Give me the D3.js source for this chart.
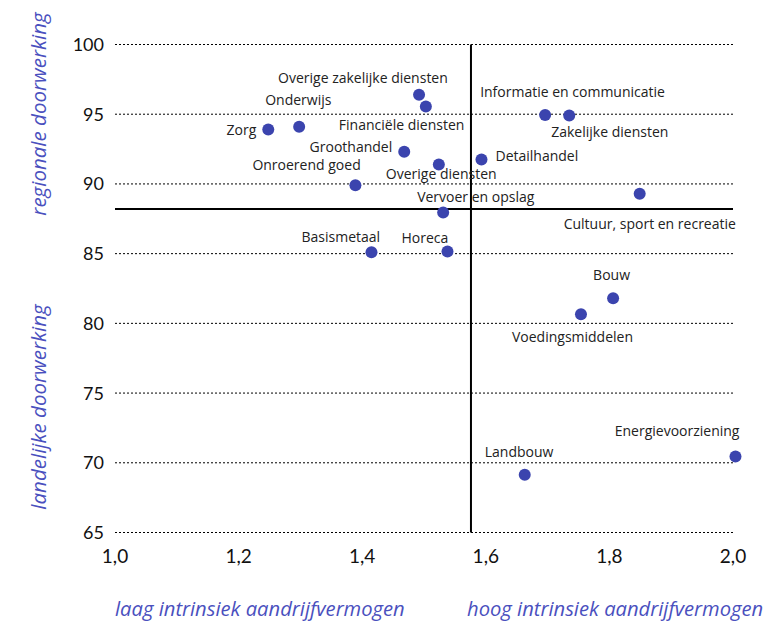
<!DOCTYPE html>
<html>
<head>
<meta charset="utf-8">
<script src="https://cdn.jsdelivr.net/npm/d3@7"></script>
<style>
  body { margin: 0; background: #fff; }
  svg { display: block; }
</style>
</head>
<body>
<svg width="780" height="622"></svg>
<script>
// sectors with x = intrinsiek aandrijfvermogen, y = doorwerking
var sectors = ["Overige zakelijke diensten", "Financiële diensten", "Informatie en communicatie",
  "Zakelijke diensten", "Onderwijs", "Zorg", "Groothandel", "Detailhandel", "Overige diensten",
  "Onroerend goed", "Cultuur, sport en recreatie", "Vervoer en opslag", "Basismetaal", "Horeca",
  "Bouw", "Voedingsmiddelen", "Energievoorziening", "Landbouw"]
var xValues = [1.492, 1.503, 1.696, 1.735, 1.298, 1.248, 1.468, 1.593, 1.524,
  1.389, 1.849, 1.531, 1.415, 1.538, 1.806, 1.754, 2.004, 1.663]
var yValues = [96.4, 95.55, 94.95, 94.9, 94.1, 93.9, 92.3, 91.75, 91.4,
  89.9, 89.3, 87.95, 85.1, 85.15, 81.8, 80.65, 70.45, 69.15]

var yTicks = [65, 70, 75, 80, 85, 90, 95, 100]
var xTicks = [1.0, 1.2, 1.4, 1.6, 1.8, 2.0]
var xSplit = 1.576   // vertical divider
var ySplit = 88.2    // horizontal divider

// label placement (pixels from point centre)
var labelPos = {
  "Overige zakelijke diensten": [-141, -12, "start"],
  "Financiële diensten": [-87, 23, "start"],
  "Informatie en communicatie": [-65, -18, "start"],
  "Zakelijke diensten": [-18, 21, "start"],
  "Onderwijs": [-34, -22, "start"],
  "Zorg": [-12, 5, "end"],
  "Groothandel": [-12, 0, "end"],
  "Detailhandel": [14, 1, "start"],
  "Overige diensten": [-53, 15, "start"],
  "Onroerend goed": [-103, -15, "start"],
  "Cultuur, sport en recreatie": [-76, 35, "start"],
  "Vervoer en opslag": [-26, -11, "start"],
  "Basismetaal": [-70, -10, "start"],
  "Horeca": [-46, -9, "start"],
  "Bouw": [-20, -18, "start"],
  "Voedingsmiddelen": [-69, 28, "start"],
  "Energievoorziening": [4, -21, "end"],
  "Landbouw": [-40, -18, "start"]
}

var svg = d3.select("svg")
var font = "Lato, 'Open Sans', sans-serif"
var labelFont = "'Open Sans', Lato, sans-serif"
var blue = "#3b44ae"
var titleBlue = "#4a50be"

var x = d3.scaleLinear().domain([1, 2]).range([115, 733])
var y = d3.scaleLinear().domain([65, 100]).range([532.5, 44.5])

// dotted grid
svg.append("g")
  .selectAll("line")
  .data(yTicks)
  .join("line")
  .attr("x1", x(1)).attr("x2", x(2))
  .attr("y1", function(d) { return y(d) })
  .attr("y2", function(d) { return y(d) })
  .attr("stroke", "#000")
  .attr("stroke-width", 1)
  .attr("stroke-dasharray", "2,2")

// quadrant lines
svg.append("line")
  .attr("x1", x(xSplit)).attr("x2", x(xSplit))
  .attr("y1", y(100)).attr("y2", y(65))
  .attr("stroke", "#000").attr("stroke-width", 2)
svg.append("line")
  .attr("x1", x(1)).attr("x2", x(2))
  .attr("y1", y(ySplit)).attr("y2", y(ySplit))
  .attr("stroke", "#000").attr("stroke-width", 2)

// y tick labels
svg.append("g")
  .selectAll("text")
  .data(yTicks)
  .join("text")
  .attr("x", 104)
  .attr("y", function(d) { return y(d) + 6.5 })
  .attr("text-anchor", "end")
  .attr("font-family", font)
  .attr("font-size", 18)
  .attr("fill", "#111")
  .text(function(d) { return d })

// x tick labels
var fmt = function(d) { return d3.format(".1f")(d).replace(".", ",") }
svg.append("g")
  .selectAll("text")
  .data(xTicks)
  .join("text")
  .attr("x", function(d) { return x(d) })
  .attr("y", 563)
  .attr("text-anchor", "middle")
  .attr("font-family", font)
  .attr("font-size", 19)
  .attr("fill", "#111")
  .text(fmt)

// axis titles
svg.append("text")
  .attr("transform", "translate(46,114) rotate(-90)")
  .attr("text-anchor", "middle")
  .attr("font-family", labelFont).attr("font-style", "italic")
  .attr("font-size", 20.5).attr("fill", titleBlue)
  .text("regionale doorwerking")
svg.append("text")
  .attr("transform", "translate(46,407) rotate(-90)")
  .attr("text-anchor", "middle")
  .attr("font-family", labelFont).attr("font-style", "italic")
  .attr("font-size", 20.5).attr("fill", titleBlue)
  .text("landelijke doorwerking")
svg.append("text")
  .attr("x", 115).attr("y", 616)
  .attr("font-family", labelFont).attr("font-style", "italic")
  .attr("font-size", 20.2).attr("fill", titleBlue)
  .text("laag intrinsiek aandrijfvermogen")
svg.append("text")
  .attr("x", 467).attr("y", 616)
  .attr("font-family", labelFont).attr("font-style", "italic")
  .attr("font-size", 20.2).attr("fill", titleBlue)
  .text("hoog intrinsiek aandrijfvermogen")

// points
var pts = sectors.map(function(s, i) { return {name: s, x: xValues[i], y: yValues[i]} })

svg.append("g")
  .selectAll("circle")
  .data(pts)
  .join("circle")
  .attr("cx", function(d) { return x(d.x) })
  .attr("cy", function(d) { return y(d.y) })
  .attr("r", 6)
  .attr("fill", blue)

// point labels
svg.append("g")
  .selectAll("text")
  .data(pts)
  .join("text")
  .attr("x", function(d) { return x(d.x) + labelPos[d.name][0] })
  .attr("y", function(d) { return y(d.y) + labelPos[d.name][1] })
  .attr("text-anchor", function(d) { return labelPos[d.name][2] })
  .attr("font-family", labelFont)
  .attr("font-size", 14)
  .attr("fill", "#222")
  .text(function(d) { return d.name })
</script>
</body>
</html>
